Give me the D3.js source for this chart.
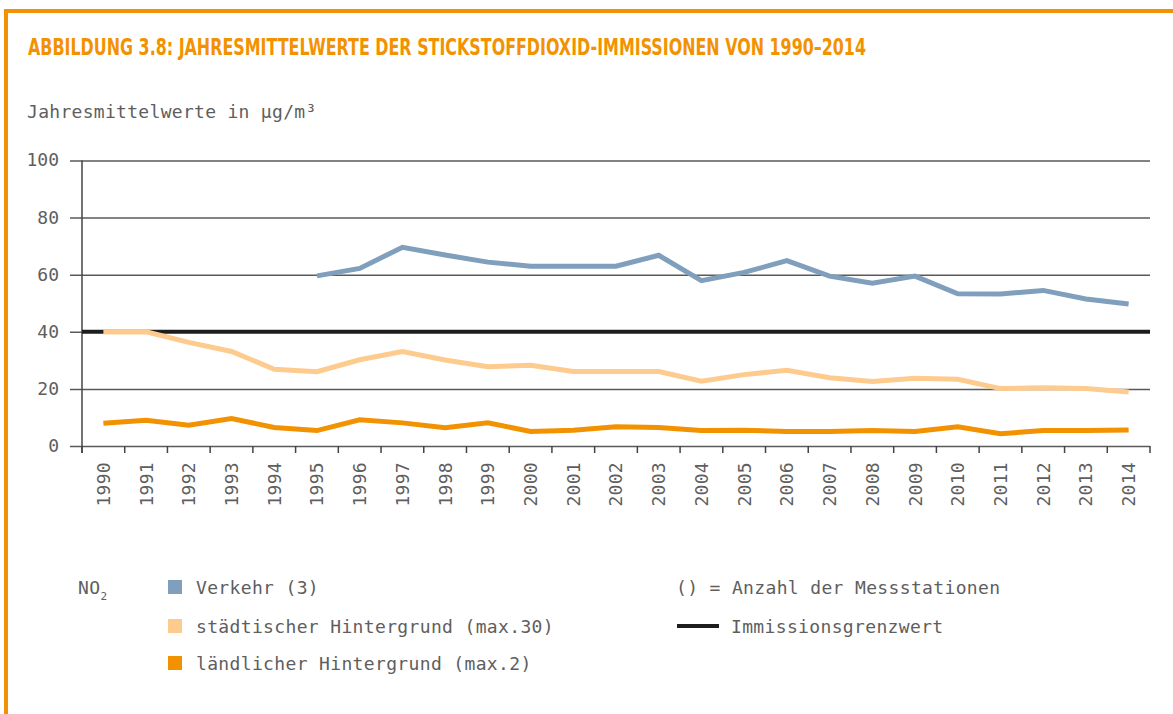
<!DOCTYPE html>
<html>
<head>
<meta charset="utf-8">
<script src="https://cdn.jsdelivr.net/npm/d3@7"></script>
<style>
  html, body { margin: 0; padding: 0; background: #fff; }
  svg { display: block; }
  .mono { font-family: "DejaVu Sans Mono", "Liberation Mono", monospace; fill: #5e5e5e; }
</style>
</head>
<body>
<svg id="chart" width="1173" height="714"></svg>
<script>
const years = ["1990","1991","1992","1993","1994","1995","1996","1997","1998","1999","2000","2001","2002","2003","2004","2005","2006","2007","2008","2009","2010","2011","2012","2013","2014"];
const verkehr = [null, null, null, null, null, 59.6, 62.2, 69.6, 66.9, 64.4, 63.0, 63.0, 63.0, 66.8, 57.9, 60.8, 64.9, 59.5, 57.0, 59.5, 53.3, 53.2, 54.5, 51.5, 49.7];
const staedtisch = [39.9, 40.0, 36.3, 33.1, 26.9, 26.0, 30.2, 33.1, 30.1, 27.8, 28.3, 26.1, 26.1, 26.1, 22.7, 25.0, 26.5, 23.9, 22.6, 23.7, 23.4, 20.1, 20.4, 20.1, 18.9];
const laendlich = [8.0, 9.0, 7.3, 9.6, 6.5, 5.4, 9.2, 8.1, 6.4, 8.1, 5.1, 5.5, 6.7, 6.5, 5.4, 5.5, 5.1, 5.1, 5.4, 5.1, 6.7, 4.3, 5.4, 5.4, 5.6];
const grenzwert = 40;
const yTicks = [0, 20, 40, 60, 80, 100];
const seriesNames = ["Verkehr (3)", "städtischer Hintergrund (max.30)", "ländlicher Hintergrund (max.2)"];
const seriesColors = ["#7f9fbd", "#fecb8f", "#f39200"];

const svg = d3.select("#chart");
const orange = "#f39200";
const textGrey = "#5e5e5e";

// frame
svg.append("rect").attr("x", 4).attr("y", 9).attr("width", 1169).attr("height", 4).attr("fill", orange);
svg.append("rect").attr("x", 4).attr("y", 9).attr("width", 4).attr("height", 705).attr("fill", orange);

// title
svg.append("text")
  .attr("x", 28).attr("y", 55)
  .attr("textLength", 838).attr("lengthAdjust", "spacingAndGlyphs")
  .style("font-family", "'Liberation Sans Narrow', 'DejaVu Sans Condensed', 'Arial Narrow', sans-serif")
  .style("font-weight", "bold").style("font-size", "22.5px")
  .attr("fill", orange)
  .text("ABBILDUNG 3.8: JAHRESMITTELWERTE DER STICKSTOFFDIOXID-IMMISSIONEN VON 1990–2014");

svg.append("text").attr("class", "mono")
  .attr("x", 27).attr("y", 118)
  .style("font-size", "18px").style("letter-spacing", "0.3px")
  .text("Jahresmittelwerte in µg/m³");

const x = d3.scaleBand().domain(years).range([82, 1150]).padding(0);
const y = d3.scaleLinear().domain([0, 100]).range([446, 160.5]);

// y axis with gridlines
const yAxis = svg.append("g").attr("transform", "translate(70,0)")
  .call(d3.axisLeft(y).tickValues(yTicks).tickSize(-1080).tickPadding(11));
yAxis.select(".domain").remove();
yAxis.selectAll(".tick line").attr("stroke", "#5a5a5a").attr("stroke-width", 1.5);
yAxis.selectAll(".tick text")
  .style("font-size", "18px").attr("dy", "0.3em").style("font-family", "'DejaVu Sans Mono', monospace").attr("fill", textGrey);

// vertical axis line
svg.append("line").attr("x1", 82).attr("x2", 82).attr("y1", y(100)).attr("y2", y(0) + 7)
  .attr("stroke", "#444").attr("stroke-width", 1.5);

// x axis labels
const xAxis = svg.append("g").attr("transform", `translate(0,${y(0)})`)
  .call(d3.axisBottom(x).tickSize(0).tickPadding(0));
xAxis.select(".domain").remove();
xAxis.selectAll(".tick text")
  .style("font-size", "18px").style("font-family", "'DejaVu Sans Mono', monospace").attr("fill", textGrey)
  .style("letter-spacing", "0.3px")
  .attr("text-anchor", "end")
  .attr("transform", "rotate(-90)")
  .attr("x", -16).attr("y", 0).attr("dy", "0.36em");

// boundary ticks
const bounds = years.map(d => x(d)).concat([x(years[years.length - 1]) + x.bandwidth()]);
svg.append("g").selectAll("line").data(bounds).join("line")
  .attr("x1", d => d).attr("x2", d => d)
  .attr("y1", y(0)).attr("y2", y(0) + 7)
  .attr("stroke", "#444").attr("stroke-width", 1.5);

// limit line
svg.append("line").attr("x1", 82).attr("x2", 1150)
  .attr("y1", y(grenzwert)).attr("y2", y(grenzwert))
  .attr("stroke", "#1d1d1b").attr("stroke-width", 4);

// series
const line = d3.line()
  .defined(d => d.v != null)
  .x(d => x(d.year) + x.bandwidth() / 2)
  .y(d => y(d.v));
[verkehr, staedtisch, laendlich].forEach((arr, i) => {
  const data = years.map((yr, j) => ({ year: yr, v: arr[j] }));
  svg.append("path").datum(data)
    .attr("d", line)
    .attr("fill", "none")
    .attr("stroke", seriesColors[i])
    .attr("stroke-width", 5)
    .attr("stroke-linejoin", "miter")
    .attr("stroke-linecap", "butt");
});

// legend
const legFont = g => g.attr("class", "mono").style("font-size", "18px").style("letter-spacing", "0.35px");
const no2 = svg.append("text").call(legFont).attr("x", 78).attr("y", 594);
no2.append("tspan").text("NO");
no2.append("tspan").attr("dy", 6).style("font-size", "11px").text("2");

const rowsY = [587, 626, 663];
seriesNames.forEach((name, i) => {
  svg.append("rect").attr("x", 168).attr("y", rowsY[i] - 7).attr("width", 14).attr("height", 14)
    .attr("fill", seriesColors[i]);
  svg.append("text").call(legFont).attr("x", 196).attr("y", rowsY[i] + 7).text(name);
});

svg.append("text").call(legFont).attr("x", 676).attr("y", 594).text("() = Anzahl der Messstationen");
svg.append("line").attr("x1", 677).attr("x2", 719).attr("y1", 626).attr("y2", 626)
  .attr("stroke", "#1d1d1b").attr("stroke-width", 4);
svg.append("text").call(legFont).attr("x", 731).attr("y", 633).text("Immissionsgrenzwert");
</script>
</body>
</html>
